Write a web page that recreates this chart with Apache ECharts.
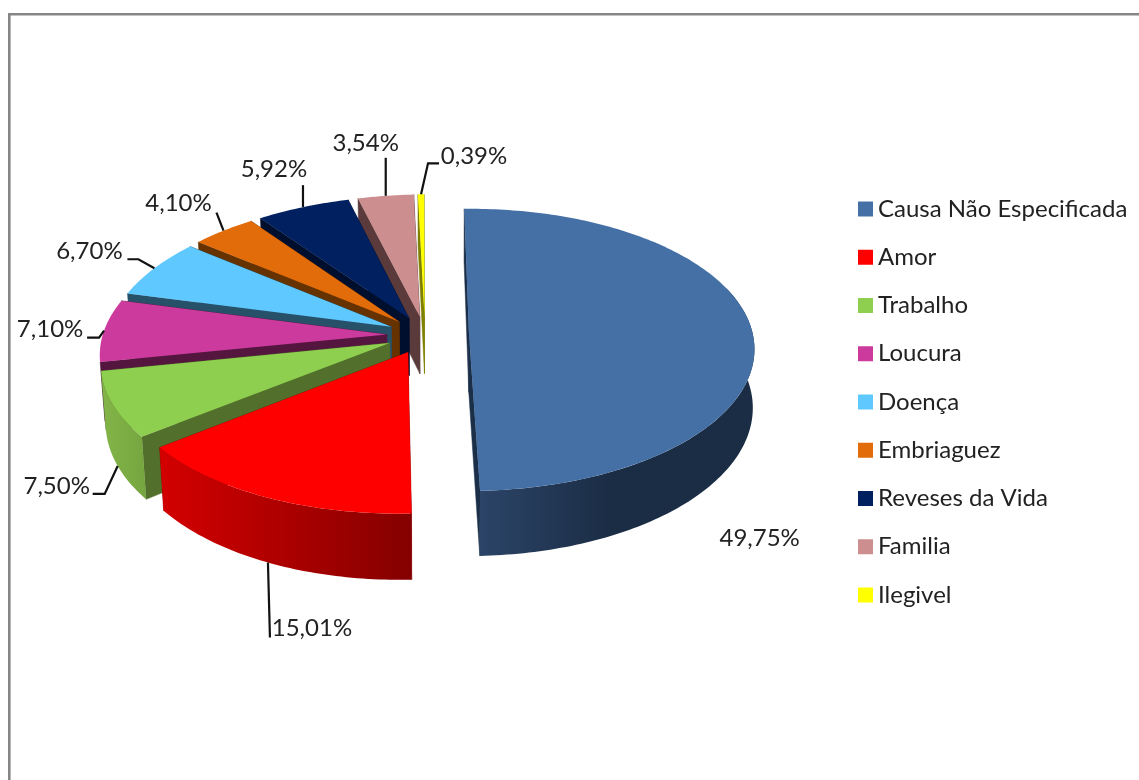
<!DOCTYPE html>
<html>
<head>
<meta charset="utf-8">
<style>html,body{margin:0;padding:0;background:#fff}#c{width:1139px;height:780px}</style>
<script src="https://cdn.jsdelivr.net/npm/echarts@6/dist/echarts.min.js"></script>
</head>
<body>
<div id="c"></div>
<script>
// Causes, in clockwise order from the top of the pie
const categories = ['Causa Não Especificada','Amor','Trabalho','Loucura','Doença','Embriaguez','Reveses da Vida','Familia','Ilegivel'];
const values = [49.75,15.01,7.50,7.10,6.70,4.10,5.92,3.54,0.39];

// Face colours: top, side faces, outer wall (ends of its gradient; null where no wall shows)
const topColors  = ['#4570A6','#FF0000','#8FCF4F','#CC3A9E','#5FC8FF','#E26B0A','#002060','#CC8E8E','#FFFF00'];
const sideColors = ['#1B2F49','#8B0000','#52702C','#54163F','#275168','#663300','#000F2E','#5A3A3A','#7F7F00'];
const wallLeft   = ['#2B4467','#D40000','#83B548',null,null,null,null,null,null];
const wallRight  = ['#1B2D45','#840000','#76A540',null,null,null,null,null,null];
const explodes   = [0.155,0.135,0.135,0.135,0.135,0.135,0.135,0.135,0.135];

// Label leaders: bend points and text centre, relative to the rim anchor of each slice
const leaderBends = [[],[[2,75]],[[-13,28],[-25,28]],[[-5,7],[-17,7]],[[-16,-9],[-27,-9]],[[-7,-18]],[[0,-22]],[[0,-38]],[[7,-31],[18,-31]]];
const labelOffsets = [[9.5,150],[44,66],[-61,20],[-54,-1],[-65,-17],[-45,-27],[-29,-38],[-20,-53],[53,-38]];
const anchorOnWall = [true,true,true,false,false,false,false,false,false];

// View of the pie plane: centre, radii, wall height, perspective and shear
const view = {cx:425, cy:335, f:284, g:139.5, wall:58, persp:0.11, shear:-6, taperLeft:0.985, taperRight:0.995, startAngle:-1.3};
const FONT = 'Lato, "Open Sans", sans-serif';
const rad = d => d * Math.PI / 180;

// Maps a point of the pie plane (radius units, v toward the viewer) to the screen
function project(u, v, lowered) {
  const k = 1 / (1 - view.persp * v);
  let x = view.cx + k * (view.f * u + view.shear * v);
  let y = view.cy + k * view.g * v;
  if (lowered) {
    x = view.cx + (x - view.cx) * (x < view.cx ? view.taperLeft : view.taperRight);
    y += k * view.wall;
  }
  return [x, y];
}

const total = values.reduce((a, b) => a + b, 0);
const spans = [];
values.reduce((start, val) => {
  const end = start + val / total * 360;
  spans.push([start, end]);
  return end;
}, view.startAngle);

function rimPoint(i, t, lowered) {
  const mid = (spans[i][0] + spans[i][1]) / 2, e = explodes[i];
  const u = e * Math.sin(rad(mid)) + Math.sin(rad(t));
  const v = -e * Math.cos(rad(mid)) - Math.cos(rad(t));
  return project(u, v, lowered);
}
function apexPoint(i, lowered) {
  const mid = (spans[i][0] + spans[i][1]) / 2, e = explodes[i];
  return project(e * Math.sin(rad(mid)), -e * Math.cos(rad(mid)), lowered);
}
function arc(i, a, b, lowered) {
  const pts = [], n = Math.max(2, Math.ceil(Math.abs(b - a)));
  for (let j = 0; j <= n; j++) pts.push(rimPoint(i, a + (b - a) * j / n, lowered));
  return pts;
}

function renderSlice(i) {
  const [ts, te] = spans[i];
  const side = sideColors[i], kids = [];
  // Radial faces
  [ts, te].forEach(t => {
    kids.push({type:'polygon', shape:{points:[apexPoint(i,false), rimPoint(i,t,false), rimPoint(i,t,true), apexPoint(i,true)]},
      style:{fill:side, stroke:side, lineWidth:0.5}});
  });
  // Outer wall on the part of the rim that faces the viewer
  const wa = Math.max(ts, 70), wb = Math.min(te, 275);
  if (wallLeft[i] && wb > wa) {
    const upper = arc(i, wa, wb, false), lower = arc(i, wa, wb, true);
    const pts = upper.concat(lower);
    const x0 = Math.min(...pts.map(p => p[0]));
    let x1 = Math.max(...pts.map(p => p[0]));
    if (i === 0) x1 = x0 + 130; // the blue wall darkens quickly, then stays flat
    const fill = new echarts.graphic.LinearGradient(x0, 0, x1, 0,
      [{offset:0,color:wallLeft[i]},{offset:1,color:wallRight[i]}], true);
    kids.push({type:'polygon', shape:{points:upper.concat(lower.reverse())}, style:{fill}});
  }
  // Top face
  kids.push({type:'polygon', shape:{points:[apexPoint(i,false)].concat(arc(i, ts, te, false))}, style:{fill:topColors[i]}});
  // Leader and value label
  const anchor = rimPoint(i, (ts + te) / 2, anchorOnWall[i]);
  if (leaderBends[i].length) {
    kids.push({type:'polyline', shape:{points:[anchor].concat(leaderBends[i].map(b => [anchor[0]+b[0], anchor[1]+b[1]]))},
      style:{stroke:'#111', lineWidth:2.2, fill:null}});
  }
  kids.push({type:'text', style:{
    text: values[i].toFixed(2).replace('.', ',') + '%',
    x: anchor[0] + labelOffsets[i][0], y: anchor[1] + labelOffsets[i][1],
    align:'center', verticalAlign:'middle', font:'24px ' + FONT, fill:'#222'}});
  return {type:'group', children:kids};
}

const chart = echarts.init(document.getElementById('c'), null, {renderer:'canvas'});
chart.setOption({
  animation:false,
  backgroundColor:'#fff',
  graphic:[{type:'rect', silent:true, shape:{x:9.3, y:14.3, width:1400, height:1000},
    style:{fill:null, stroke:'#868686', lineWidth:2.6}}],
  legend:{
    orient:'vertical', left:858, top:195, padding:0, selectedMode:false,
    itemWidth:15, itemHeight:15, itemGap:20.25, icon:'rect',
    textStyle:{fontFamily:FONT, fontSize:24, color:'#222', lineHeight:28},
    data:categories
  },
  series:categories.map((name, i) => ({
    type:'custom', name, coordinateSystem:'none', z:categories.length - i + 1,
    itemStyle:{color:topColors[i]},
    data:[values[i]],
    renderItem:() => renderSlice(i)
  }))
});
</script>
</body>
</html>
